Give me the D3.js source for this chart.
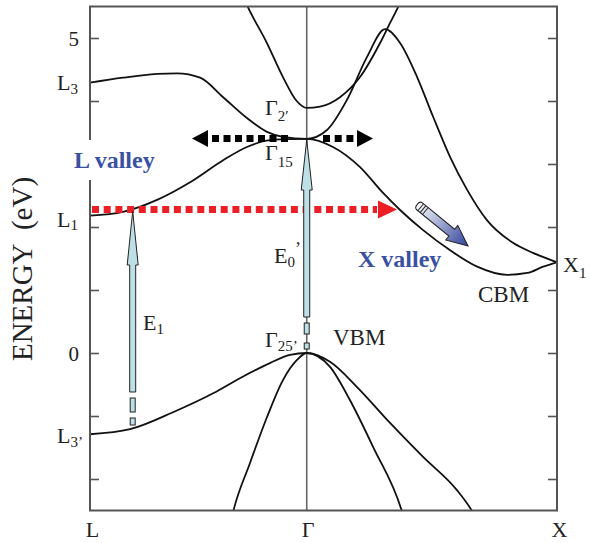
<!DOCTYPE html>
<html><head><meta charset="utf-8">
<script src="https://cdn.jsdelivr.net/npm/d3@7"></script>
<style>
html,body{margin:0;padding:0;background:#fff;}
svg{display:block;font-family:"Liberation Serif","DejaVu Serif",serif;}
</style></head>
<body>
<svg id="chart" width="589" height="543"></svg>
<script>
// ---- data ----
const kPoints = [-0.866, 0, 1];
const kLabels = ["L", "Γ", "X"];
const yTicks = [-2, -1, 0, 1, 2, 3, 4, 5];
const yTickLabels = [5, 0];
const yDomain = [-2.5, 5.5];

// conduction band from L3 through Γ15 (upper) to X1
const bandL3 = [[-0.866,4.29],[-0.734,4.37],[-0.598,4.43],[-0.518,4.44],[-0.426,4.37],[-0.334,4.06],[-0.239,3.73],[-0.159,3.51],[-0.095,3.43],[0,3.40],[0.081,3.54],[0.161,4.02],[0.241,4.70],[0.313,5.14],[0.373,4.92],[0.441,4.38],[0.505,3.75],[0.573,3.11],[0.641,2.59],[0.720,2.11],[0.824,1.75],[0.904,1.59],[1,1.44]];
// lowest conduction band L1 -> Γ15 -> CBM -> X1
const bandL1 = [[-0.866,2.18],[-0.734,2.24],[-0.598,2.43],[-0.466,2.71],[-0.334,3.06],[-0.239,3.27],[-0.147,3.38],[-0.067,3.395],[0,3.40],[0.105,3.27],[0.213,2.95],[0.305,2.54],[0.373,2.27],[0.465,1.95],[0.573,1.63],[0.681,1.37],[0.801,1.24],[0.881,1.27],[0.945,1.37],[1,1.44]];
// Γ2' band
const bandG2 = [[-0.25,5.62],[-0.235,5.49],[-0.159,4.92],[-0.095,4.38],[-0.04,4.0],[0,3.89],[0.053,3.91],[0.133,4.06],[0.213,4.38],[0.293,4.92],[0.333,5.24],[0.365,5.49],[0.38,5.62]];
// valence bands
const bandHH = [[-0.866,-1.29],[-0.706,-1.21],[-0.534,-0.94],[-0.374,-0.64],[-0.267,-0.40],[-0.147,-0.16],[-0.067,-0.03],[0,0],[0.093,-0.14],[0.201,-0.54],[0.333,-1.11],[0.465,-1.65],[0.601,-2.18],[0.661,-2.51],[0.68,-2.64]];
const bandLH = [[-0.30,-2.62],[-0.294,-2.52],[-0.227,-1.75],[-0.159,-1.02],[-0.095,-0.43],[-0.039,-0.11],[0,0],[0.093,-0.22],[0.173,-0.75],[0.265,-1.49],[0.381,-2.52],[0.39,-2.64]];

const bands = [bandL3, bandL1, bandG2, bandHH, bandLH];

// ---- drawing ----
const svg = d3.select("#chart");
const x = d3.scaleLinear().domain([kPoints[0], kPoints[2]]).range([90, 557]);
const y = d3.scaleLinear().domain(yDomain).range([510.5, 6.5]);
const X0 = x.range()[0], X1 = x.range()[1], Y0 = y.range()[1], Y1 = y.range()[0];

svg.append("defs").append("clipPath").attr("id","plot")
  .append("rect").attr("x",X0).attr("y",Y0).attr("width",X1-X0).attr("height",Y1-Y0);

const grad = svg.select("defs").append("linearGradient").attr("id","bg")
  .attr("x1","0%").attr("x2","100%").attr("y1","0%").attr("y2","0%");
grad.append("stop").attr("offset","0%").attr("stop-color","#ffffff");
grad.append("stop").attr("offset","100%").attr("stop-color","#2f429a");

// Γ vertical line
svg.append("line").attr("x1",x(0)).attr("x2",x(0)).attr("y1",Y0).attr("y2",Y1)
  .attr("stroke","#666").attr("stroke-width",1.6);

// bands
const line = d3.line().x(d=>x(d[0])).y(d=>y(d[1])).curve(d3.curveMonotoneX);
svg.append("g").attr("clip-path","url(#plot)").selectAll("path").data(bands).join("path")
  .attr("d", line).attr("fill","none").attr("stroke","#111").attr("stroke-width",1.8);

// ticks
svg.append("g").attr("transform",`translate(${X0},0)`)
  .call(d3.axisRight(y).tickValues(yTicks).tickSize(9).tickFormat(""))
  .call(g=>g.select(".domain").remove())
  .call(g=>g.selectAll("line").attr("stroke","#555").attr("stroke-width",1.6));
svg.append("g").attr("transform",`translate(${X1},0)`)
  .call(d3.axisLeft(y).tickValues(yTicks).tickSize(9).tickFormat(""))
  .call(g=>g.select(".domain").remove())
  .call(g=>g.selectAll("line").attr("stroke","#555").attr("stroke-width",1.6));

// frame
svg.append("rect").attr("x",X0).attr("y",Y0).attr("width",X1-X0).attr("height",Y1-Y0)
  .attr("fill","none").attr("stroke","#555").attr("stroke-width",2);

// bottom labels
svg.append("g").attr("transform",`translate(0,${Y1})`)
  .call(d3.axisBottom(x).tickValues(kPoints).tickSize(0).tickPadding(11).tickFormat((d,i)=>kLabels[i]))
  .call(g=>g.select(".domain").remove())
  .call(g=>g.selectAll("text").attr("font-size",22).attr("fill","#222")
     .attr("font-family","'Liberation Serif',serif").attr("dx",(d,i)=>i===0?2:(i===2?2:1)));

// y numeric labels
svg.selectAll("text.ynum").data(yTickLabels).join("text").attr("class","ynum")
  .attr("x",79).attr("y",d=>y(d)+8).attr("text-anchor","end")
  .attr("font-size",21).attr("fill","#222").text(d=>d);

// y axis title
svg.append("text").attr("transform","translate(32,269) rotate(-90)")
  .attr("text-anchor","middle").attr("font-size",29).attr("fill","#222")
  .style("white-space","pre").text("ENERGY  (eV)");

// helper for labels with subscripts
function lab(px, py, main, sub, subDy, extra) {
  const t = svg.append("text").attr("x",px).attr("y",py).attr("font-size",22).attr("fill","#222");
  t.append("tspan").text(main);
  if (sub) t.append("tspan").attr("font-size",15).attr("dy",subDy).text(sub);
  if (extra) t.append("tspan").attr("font-size",18).attr("dy",extra[1]).text(extra[0]);
  return t;
}
lab(57, y(4.29)+7, "L", "3", 4);
lab(57, y(2.18)+11, "L", "1", 3);
lab(57, y(-1.29)+9, "L", "3’", 4);
lab(265, y(3.89)+7, "Γ", "2′", 6);
lab(265, y(3.40)+21, "Γ", "15", 7);
lab(265, y(0)-6, "Γ", "25’", 4);
lab(563, y(1.44)+10, "X", "1", 6);
lab(143, 330, "E", "1", 4);
lab(274, 263, "E", "0", 4, ["’", -12]);

svg.append("text").attr("x",333).attr("y",345).attr("font-size",23).attr("fill","#222").text("VBM");
svg.append("text").attr("x",478).attr("y",302).attr("font-size",23).attr("fill","#222").text("CBM");

// L valley label with white background
svg.append("rect").attr("x",66).attr("y",140).attr("width",96).attr("height",40).attr("fill","#fff");
svg.append("text").attr("x",74).attr("y",168).attr("font-size",24).attr("font-weight","bold")
  .attr("fill","#3a51a2").text("L valley");
svg.append("text").attr("x",358).attr("y",267).attr("font-size",24).attr("font-weight","bold")
  .attr("fill","#3a51a2").text("X valley");

// red dotted arrow (L valley -> X valley)
const yr = y(2.278);
svg.append("line").attr("x1",92).attr("x2",377).attr("y1",yr).attr("y2",yr)
  .attr("stroke","#ec1f26").attr("stroke-width",7).attr("stroke-dasharray","7,4.7");
svg.append("path").attr("d",`M378,${yr-9}L397,${yr}L378,${yr+9}Z`).attr("fill","#ec1f26");

// black dotted double arrow at Γ15
const yb = y(3.405);
svg.append("line").attr("x1",288).attr("x2",211).attr("y1",yb).attr("y2",yb)
  .attr("stroke","#000").attr("stroke-width",7).attr("stroke-dasharray","7,4.5");
svg.append("path").attr("d",`M208,${yb-8.5}L192,${yb}L208,${yb+8.5}Z`).attr("fill","#000");
svg.append("line").attr("x1",323).attr("x2",356).attr("y1",yb).attr("y2",yb)
  .attr("stroke","#000").attr("stroke-width",7).attr("stroke-dasharray","7,4.7");
svg.append("path").attr("d",`M357,${yb-8.5}L373,${yb}L357,${yb+8.5}Z`).attr("fill","#000");

// light-blue vertical arrows
function vArrow(cx, tipY, headY, shaftEnd, segs) {
  const g = svg.append("g").attr("fill","#bde0e6").attr("stroke","#222").attr("stroke-width",1);
  g.append("path").attr("d",
    `M${cx},${tipY}L${cx+5.5},${headY}L${cx+3},${headY}L${cx+3},${shaftEnd}L${cx-3},${shaftEnd}L${cx-3},${headY}L${cx-5.5},${headY}Z`);
  segs.forEach(s=>g.append("rect").attr("x",cx-2.5).attr("y",s[0]).attr("width",5).attr("height",s[1]-s[0]));
}
vArrow(132.7, y(2.25), 265, 392, [[398,412],[418,425]]);
vArrow(x(0), y(3.40)+1, 190, 317, [[323,334],[343,349]]);

// gradient arrow toward X valley
(function(){
  const tx = 418, ty = 205, hx = 468, hy = 246;
  const L = Math.hypot(hx-tx, hy-ty), ang = Math.atan2(hy-ty, hx-tx)*180/Math.PI;
  const g = svg.append("g").attr("transform",`translate(${tx},${ty}) rotate(${ang})`);
  const hb = L-21;
  g.append("path").attr("d",
    `M2,-4.5L${hb},-4.5L${hb},-9.5L${L},0L${hb},9.5L${hb},4.5L2,4.5A3,4.5 0 0 1 2,-4.5Z`)
    .attr("fill","url(#bg)").attr("stroke","#222").attr("stroke-width",1);
  [3.5,6.5,9.5].forEach(s=>g.append("line").attr("x1",s).attr("x2",s).attr("y1",-4.5).attr("y2",4.5)
    .attr("stroke","#222").attr("stroke-width",1));
})();
</script>
</body></html>
